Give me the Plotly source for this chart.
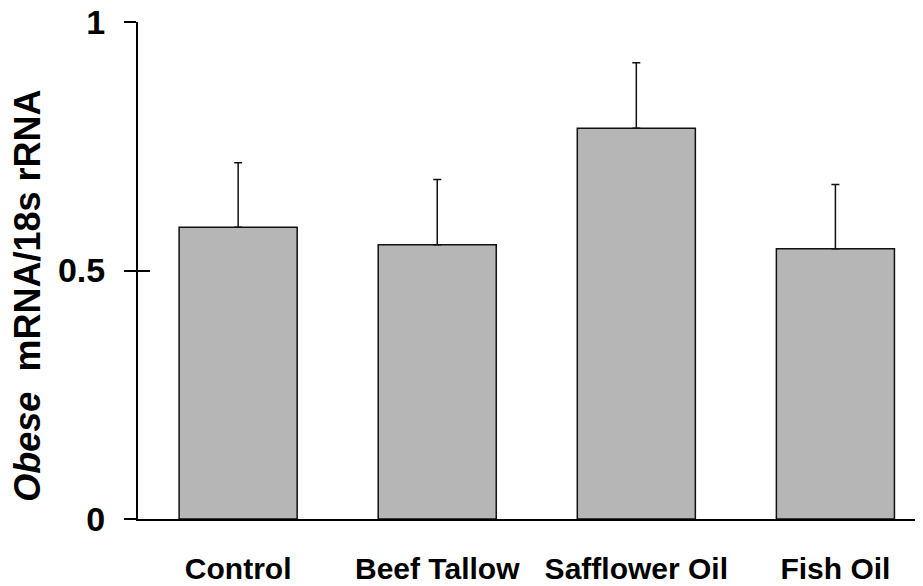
import plotly.graph_objects as go

categories = ["Control", "Beef Tallow", "Safflower Oil", "Fish Oil"]
means = [0.587, 0.552, 0.786, 0.544]
errors = [0.130, 0.131, 0.132, 0.129]
ytick_vals = [0, 0.5, 1]
ytick_text = ["0", "0.5", "1"]

FONT = "Liberation Sans, Arial, sans-serif"

fig = go.Figure()
fig.add_trace(go.Bar(
    x=categories, y=means,
    marker=dict(color="#b6b6b6", line=dict(color="#111111", width=1.5)),
    error_y=dict(type="data", array=errors, arrayminus=[0]*len(errors), symmetric=False,
                 color="#111111", thickness=1.5, width=4),
    showlegend=False,
))
# invisible trace on overlay axis to carry inner tick marks
fig.add_trace(go.Scatter(x=categories, y=means, yaxis="y2", mode="markers",
                         marker=dict(opacity=0), showlegend=False, hoverinfo="skip"))

# page body has an 8px margin, so the figure is sized/offset to compensate
fig.update_layout(
    width=915, height=578,
    margin=dict(l=130, r=0, t=14, b=67, autoexpand=False),
    paper_bgcolor="white", plot_bgcolor="white",
    bargap=0.407,
    font=dict(family=FONT, color="black"),
    xaxis=dict(
        type="category", range=[-0.503, 3.44],
        showline=True, linecolor="black", linewidth=2,
        showgrid=False, ticks="", zeroline=False,
        tickfont=dict(family=FONT, size=30, color="black", weight="bold"),
        ticklabelstandoff=22,
    ),
    yaxis=dict(
        range=[0, 1], tickvals=ytick_vals, ticktext=ytick_text,
        showline=True, linecolor="black", linewidth=2,
        showgrid=False, zeroline=False,
        ticks="outside", ticklen=12, tickwidth=2, tickcolor="black",
        tickfont=dict(family=FONT, size=34, color="black", weight="bold"),
        ticklabelstandoff=12, ticklabeloverflow="allow",
    ),
    yaxis2=dict(
        range=[0, 1], overlaying="y", side="left", tickvals=ytick_vals,
        showline=False, showgrid=False, zeroline=False, showticklabels=False,
        ticks="inside", ticklen=12, tickwidth=2, tickcolor="black",
    ),
    annotations=[dict(
        text="<b><i>Obese</i>&nbsp; mRNA/18s rRNA</b>",
        xref="paper", yref="paper", x=-0.141, y=0.45,
        xanchor="center", yanchor="middle", textangle=-90, showarrow=False,
        font=dict(family=FONT, size=36, color="black"),
    )],
)

fig.write_html("out.html")
